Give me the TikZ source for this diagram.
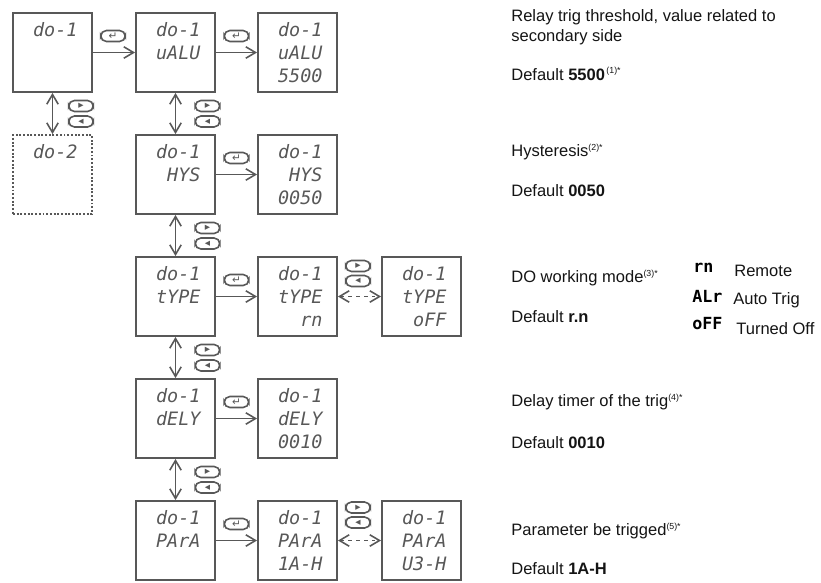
\documentclass[tikz,border=0pt]{standalone}
\usepackage{fontspec}
\setmainfont{Liberation Sans}
\newfontfamily\lcdfont{DejaVu Sans Mono}
\newfontfamily\keyfont{DejaVu Sans}
\usetikzlibrary{arrows.meta}
\usetikzlibrary{calc}

\definecolor{lcdgray}{RGB}{88,88,88}
\definecolor{inkgray}{RGB}{20,20,20}

\begin{document}
\begin{tikzpicture}[x=0.02cm, y=-0.02cm,
	>={Straight Barb[length=5.5pt,width=6.5pt]},
	lcd/.style={draw=lcdgray, line width=1.1pt, minimum width=1.58cm, minimum height=1.58cm, inner sep=0pt, text width=1cm, align=right, text=lcdgray, font=\lcdfont\itshape\fontsize{10.5}{13}\selectfont},
	key/.style={draw=lcdgray, line width=0.9pt, rounded corners=3.2pt, minimum width=0.49cm, minimum height=0.22cm, inner sep=0pt, text=lcdgray, font=\keyfont\fontsize{6}{6}\selectfont},
	link/.style={draw=lcdgray, line width=0.9pt},
	note/.style={anchor=west, inner sep=0pt, align=left, text=inkgray, font=\fontsize{9.4}{11.3}\selectfont},
	glyph/.style={anchor=west, inner sep=0pt, text=black, font=\lcdfont\bfseries\fontsize{9.5}{9.5}\selectfont}]
	\useasboundingbox (0,0) rectangle (821,582);
	%\draw[style=help lines,gray!50] (0,0) grid[step=50] (821,582);

	% displays
	\node[lcd] (do1) at (52.5,52.5) {do-1\\\mbox{}\\\mbox{}};
	\node[lcd, densely dotted] (do2) at (52.5,174.5) {do-2\\\mbox{}\\\mbox{}};
	\node[lcd] (valu) at (175.5,52.5) {do-1\\uALU\\\mbox{}};
	\node[lcd] (valuset) at (297.5,52.5) {do-1\\uALU\\5500};
	\node[lcd] (hys) at (175.5,174.5) {do-1\\HYS\\\mbox{}};
	\node[lcd] (hysset) at (297.5,174.5) {do-1\\HYS\\0050};
	\node[lcd] (type) at (175.5,296.5) {do-1\\tYPE\\\mbox{}};
	\node[lcd] (typern) at (297.5,296.5) {do-1\\tYPE\\rn};
	\node[lcd] (typeoff) at (421.5,296.5) {do-1\\tYPE\\oFF};
	\node[lcd] (dely) at (175.5,418.5) {do-1\\dELY\\\mbox{}};
	\node[lcd] (delyset) at (297.5,418.5) {do-1\\dELY\\0010};
	\node[lcd] (para) at (175.5,540.5) {do-1\\PArA\\\mbox{}};
	\node[lcd] (paraa) at (297.5,540.5) {do-1\\PArA\\1A-H};
	\node[lcd] (parau) at (421.5,540.5) {do-1\\PArA\\U3-H};

	\draw[link,->] (do1) -- (valu);
	\draw[link,->] (valu) -- (valuset);
	\draw[link,->] (hys) -- (hysset);
	\draw[link,->] (type) -- (typern);
	\draw[link,->] (dely) -- (delyset);
	\draw[link,->] (para) -- (paraa);

	\draw[link,<->] (do1) -- (do2);
	\draw[link,<->] (valu) -- (hys);
	\draw[link,<->] (hys) -- (type);
	\draw[link,<->] (type) -- (dely);
	\draw[link,<->] (dely) -- (para);

	\draw[link,<->,dash pattern=on 2pt off 2.5pt] (typern) -- (typeoff);
	\draw[link,<->,dash pattern=on 2pt off 2.5pt] (paraa) -- (parau);

	% keys
	\node[key] (ent1) at (113,36) {↵};
	\node[key] (ent2) at (236.5,36) {↵};
	\node[key] (ent3) at (236.5,158) {↵};
	\node[key] (ent4) at (236.5,280) {↵};
	\node[key] (ent5) at (236.5,402) {↵};
	\node[key] (ent6) at (236.5,524) {↵};

	\node[key] (next1) at (81,106) {▸};
	\node[key] (prev1) at (81,121.5) {◂};
	\node[key] (next2) at (207.5,106) {▸};
	\node[key] (prev2) at (207.5,121.5) {◂};
	\node[key] (next3) at (207.5,228) {▸};
	\node[key] (prev3) at (207.5,243.5) {◂};
	\node[key] (next4) at (207.5,350) {▸};
	\node[key] (prev4) at (207.5,365.5) {◂};
	\node[key] (next5) at (207.5,472) {▸};
	\node[key] (prev5) at (207.5,487.5) {◂};
	\node[key] (next6) at (358,266) {▸};
	\node[key] (prev6) at (358,281) {◂};
	\node[key] (next7) at (358,507.5) {▸};
	\node[key] (prev7) at (358,522.5) {◂};

	% notes
	\node[note] (valunote) at (511,27) {Relay trig threshold, value related to\\secondary side};
	\node[note] (valudef) at (511,74) {Default \textbf{5500}\textsuperscript{\fontsize{5}{5}\selectfont\,(1)*}};
	\node[note] (hysnote) at (511,152) {Hysteresis\textsuperscript{\fontsize{5}{5}\selectfont(2)*}};
	\node[note] (hysdef) at (511,191) {Default \textbf{0050}};
	\node[note] (typenote) at (511,278) {DO working mode\textsuperscript{\fontsize{5}{5}\selectfont(3)*}};
	\node[note] (typedef) at (511,317) {Default \textbf{r.n}};
	\node[note] (delynote) at (511,402) {Delay timer of the trig\textsuperscript{\fontsize{5}{5}\selectfont(4)*}};
	\node[note] (delydef) at (511,443) {Default \textbf{0010}};
	\node[note] (paranote) at (511,531) {Parameter be trigged\textsuperscript{\fontsize{5}{5}\selectfont(5)*}};
	\node[note] (paradef) at (511,569) {Default \textbf{1A-H}};

	\node[glyph] (rnsym) at (693,268) {rn};
	\node[glyph] (alrsym) at (692,296) {ALr};
	\node[glyph] (offsym) at (692,324) {oFF};
	\node[note] (rntext) at (734,271) {Remote};
	\node[note] (alrtext) at (733,300) {Auto Trig};
	\node[note] (offtext) at (736,329) {Turned Off};
\end{tikzpicture}
\end{document}
